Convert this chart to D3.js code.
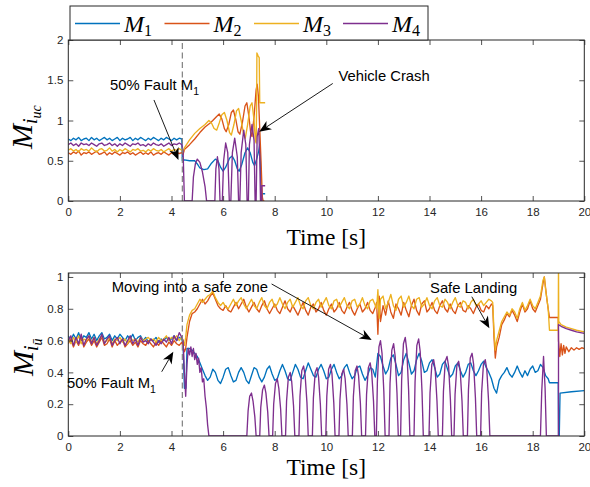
<!DOCTYPE html>
<html><head><meta charset="utf-8">
<script src="https://cdn.jsdelivr.net/npm/d3@7"></script>
<style>body{margin:0;background:#fff}svg{display:block}</style>
</head><body><div id="chart"></div>
<script>
// ---------------- DATA ----------------
const seriesNames = ["M1","M2","M3","M4"];
const xTicks = [0,2,4,6,8,10,12,14,16,18,20];
const yTicksTop = [0,0.5,1,1.5,2];
const yTicksBot = [0,0.2,0.4,0.6,0.8,1];
const faultTime = 4.42;

// Top panel, pre-fault samples every 0.1 s from 0 to 4.4 s
const top1Pre = [0.77,0.75,0.78,0.76,0.79,0.75,0.77,0.78,0.75,0.79,0.76,0.78,0.75,0.77,0.79,0.76,0.78,0.75,0.77,0.79,0.75,0.78,0.76,0.77,0.79,0.75,0.78,0.76,0.79,0.77,0.75,0.78,0.76,0.79,0.77,0.75,0.78,0.76,0.79,0.77,0.75,0.78,0.76,0.78,0.77];
const top2Pre = [0.60,0.58,0.61,0.59,0.62,0.57,0.60,0.59,0.61,0.58,0.60,0.62,0.58,0.59,0.61,0.57,0.60,0.58,0.61,0.59,0.57,0.60,0.59,0.61,0.58,0.60,0.57,0.59,0.61,0.58,0.60,0.58,0.61,0.57,0.59,0.60,0.58,0.61,0.59,0.57,0.60,0.58,0.60,0.59,0.60];
const top3Pre = [0.63,0.65,0.62,0.64,0.61,0.65,0.63,0.64,0.62,0.66,0.63,0.61,0.64,0.65,0.62,0.63,0.66,0.62,0.64,0.61,0.64,0.62,0.65,0.63,0.61,0.64,0.63,0.65,0.62,0.63,0.61,0.64,0.62,0.65,0.63,0.62,0.64,0.61,0.63,0.65,0.62,0.64,0.63,0.65,0.63];
const top4Pre = [0.70,0.72,0.69,0.71,0.68,0.72,0.70,0.71,0.69,0.72,0.70,0.68,0.71,0.72,0.69,0.70,0.72,0.69,0.71,0.68,0.71,0.69,0.72,0.70,0.68,0.71,0.70,0.72,0.69,0.70,0.68,0.71,0.69,0.72,0.70,0.69,0.71,0.68,0.70,0.72,0.69,0.71,0.70,0.72,0.70];

// Top panel, post-fault [time, value]
const top1Post = [[4.42,0.50],[4.5,0.51],[4.7,0.50],[4.9,0.50],[5.0,0.46],[5.1,0.41],[5.25,0.39],[5.4,0.40],[5.55,0.47],[5.7,0.52],[5.8,0.50],[5.9,0.42],[6.0,0.37],[6.1,0.42],[6.25,0.53],[6.35,0.56],[6.45,0.50],[6.55,0.40],[6.62,0.37],[6.72,0.45],[6.85,0.60],[6.95,0.66],[7.05,0.60],[7.15,0.48],[7.22,0.44],[7.3,0.52],[7.38,0.62],[7.42,0.70],[7.45,0.45],[7.48,0],[7.5,0],[7.5,0.09],[7.63,0.09]];
const top2Post = [[4.45,0.58],[4.5,0.64],[4.7,0.70],[4.9,0.77],[5.1,0.85],[5.3,0.92],[5.5,0.97],[5.6,1.0],[5.75,1.05],[5.85,1.08],[5.95,1.02],[6.05,0.90],[6.12,0.86],[6.22,0.95],[6.32,1.10],[6.4,1.13],[6.5,1.0],[6.58,0.86],[6.65,0.83],[6.75,0.98],[6.85,1.18],[6.92,1.22],[7.0,1.05],[7.07,0.85],[7.12,0.80],[7.2,1.05],[7.28,1.38],[7.32,1.45],[7.37,1.30],[7.42,0.90],[7.47,0.50],[7.52,0.05],[7.55,0],[7.6,0]];
const top3Post = [[4.45,0.60],[4.5,0.66],[4.7,0.76],[4.9,0.84],[5.1,0.90],[5.3,0.95],[5.45,1.0],[5.55,0.97],[5.65,0.90],[5.75,0.88],[5.85,0.97],[5.95,1.07],[6.05,1.10],[6.15,1.0],[6.25,0.85],[6.32,0.82],[6.42,0.95],[6.52,1.12],[6.6,1.15],[6.7,1.0],[6.8,0.82],[6.86,0.78],[6.95,0.95],[7.05,1.18],[7.12,1.22],[7.2,1.0],[7.25,0.75],[7.28,0.72],[7.3,1.20],[7.31,1.84],[7.36,1.80],[7.4,1.78],[7.42,1.22],[7.63,1.22]];
const top4Post = [[4.45,0.62],[4.5,0],[4.8,0],[4.85,0.30],[4.93,0.47],[5.0,0.52],[5.1,0.48],[5.2,0.36],[5.3,0.18],[5.36,0],[5.68,0],[5.72,0.40],[5.78,0.55],[5.84,0.40],[5.88,0],[5.97,0],[6.02,0.50],[6.1,0.72],[6.18,0.60],[6.24,0],[6.3,0],[6.36,0.60],[6.45,0.78],[6.55,0.55],[6.6,0],[6.65,0],[6.7,0.60],[6.8,0.88],[6.88,0.70],[6.93,0],[6.98,0],[7.02,0.70],[7.12,0.95],[7.2,0.75],[7.24,0],[7.28,0],[7.32,0.80],[7.38,0.90],[7.42,0.55],[7.45,0],[7.5,0],[7.5,0.19],[7.63,0.19]];

// Bottom panel, pre-fault samples every 0.1 s from 0 to 4.4 s
const bot1Pre = [0.63,0.60,0.64,0.61,0.65,0.60,0.63,0.62,0.65,0.61,0.64,0.60,0.63,0.65,0.61,0.62,0.64,0.60,0.63,0.61,0.64,0.62,0.60,0.63,0.61,0.64,0.60,0.62,0.63,0.60,0.62,0.59,0.61,0.60,0.62,0.59,0.61,0.60,0.62,0.60,0.61,0.63,0.60,0.62,0.61];
const bot2Pre = [0.58,0.61,0.56,0.60,0.57,0.62,0.56,0.59,0.61,0.57,0.60,0.56,0.59,0.62,0.57,0.58,0.61,0.56,0.60,0.57,0.59,0.61,0.56,0.58,0.60,0.57,0.59,0.56,0.60,0.58,0.57,0.60,0.58,0.56,0.59,0.57,0.60,0.58,0.56,0.59,0.57,0.60,0.58,0.57,0.59];
const bot3Pre = [0.61,0.58,0.62,0.59,0.63,0.58,0.61,0.60,0.63,0.59,0.62,0.58,0.61,0.63,0.59,0.60,0.62,0.58,0.61,0.60,0.62,0.59,0.61,0.58,0.62,0.60,0.61,0.59,0.62,0.60,0.61,0.62,0.60,0.61,0.59,0.62,0.60,0.61,0.63,0.60,0.62,0.61,0.63,0.60,0.62];
const bot4Pre = [0.60,0.63,0.57,0.62,0.58,0.64,0.57,0.61,0.63,0.58,0.62,0.57,0.60,0.64,0.58,0.61,0.63,0.57,0.60,0.62,0.58,0.61,0.57,0.60,0.63,0.58,0.61,0.57,0.62,0.59,0.60,0.58,0.61,0.59,0.57,0.60,0.58,0.61,0.59,0.62,0.58,0.63,0.60,0.65,0.62];

// Bottom panel M1, post-fault
const bot1Start = [[4.45,0.58],[4.5,0.30],[4.56,0.30],[4.6,0.55]];
const bot1Mid = [ // every 0.1 s from 4.7 to 18.6
  0.55,0.54,0.52,0.50,0.46,0.42,0.38,0.35,0.37,0.42,
  0.40,0.35,0.33,0.37,0.42,0.43,0.38,0.34,0.35,0.40,
  0.43,0.40,0.35,0.33,0.38,0.43,0.42,0.37,0.34,0.37,
  0.42,0.44,0.39,0.35,0.36,0.41,0.45,0.41,0.36,0.35,
  0.40,0.45,0.42,0.37,0.36,0.41,0.46,0.42,0.38,0.37,
  0.42,0.45,0.41,0.36,0.37,0.42,0.45,0.40,0.36,0.38,
  0.43,0.45,0.40,0.36,0.38,0.43,0.44,0.39,0.35,0.38,
  0.43,0.42,0.37,0.52,0.50,0.44,0.39,0.42,0.49,0.51,
  0.45,0.38,0.40,0.48,0.52,0.46,0.39,0.41,0.48,0.52,
  0.47,0.40,0.41,0.46,0.48,0.43,0.37,0.39,0.45,0.47,
  0.42,0.37,0.39,0.44,0.46,0.41,0.37,0.40,0.45,0.46,
  0.41,0.38,0.41,0.45,0.47,0.43,0.40,0.36,0.30,0.27,
  0.35,0.38,0.40,0.43,0.39,0.37,0.40,0.44,0.40,0.37,
  0.41,0.38,0.42,0.44,0.40,0.41,0.45,0.43,0.38,0.36];
const bot1End = [[18.65,0.335],[18.99,0.335],[19.0,0],[19.03,0],[19.06,0.27],[19.5,0.278],[20,0.285]];

// Bottom panel M2, post-fault
const bot2Start = [[4.45,0.56],[4.5,0.53],[4.55,0.55]];
const bot2A = [ // 4.6 .. 11.9
  0.62,0.72,0.77,0.78,0.80,0.83,0.86,0.83,0.85,0.88,
  0.90,0.86,0.82,0.80,0.79,0.82,0.79,0.78,0.81,0.84,
  0.80,0.83,0.86,0.81,0.78,0.81,0.84,0.80,0.78,0.82,
  0.85,0.80,0.77,0.80,0.83,0.79,0.77,0.81,0.85,0.80,
  0.78,0.82,0.79,0.76,0.80,0.84,0.79,0.76,0.81,0.83,
  0.78,0.80,0.84,0.79,0.76,0.80,0.83,0.78,0.80,0.84,
  0.79,0.77,0.81,0.84,0.79,0.76,0.80,0.83,0.78,0.80,
  0.84,0.79,0.77,0.81];
const bot2Spike = [[11.95,0.84],[12.0,0.64],[12.05,0.88],[12.1,0.72]];
const bot2B = [ // 12.2 .. 16.4
  0.82,0.76,0.85,0.78,0.74,0.83,0.80,0.76,0.84,0.79,
  0.75,0.82,0.86,0.79,0.76,0.83,0.85,0.78,0.80,0.84,
  0.79,0.77,0.82,0.85,0.80,0.78,0.83,0.79,0.77,0.82,
  0.84,0.79,0.78,0.82,0.80,0.77,0.81,0.83,0.79,0.78,
  0.82,0.80,0.83];
const bot2Drop = [[16.45,0.82],[16.5,0.62],[16.55,0.49],[16.6,0.56]];
const bot2C = [ // 16.7 .. 18.3
  0.62,0.70,0.73,0.77,0.75,0.79,0.76,0.72,0.78,0.83,
  0.78,0.80,0.85,0.80,0.78,0.82,0.86];
const bot2End = [[18.4,0.96],[18.45,1.0],[18.55,0.86],[18.6,0.80],[18.65,0.745],[18.99,0.745],[19.0,0.60],[19.05,0.50],[19.1,0.58],[19.15,0.51],[19.2,0.57],[19.25,0.52],[19.3,0.56],[19.4,0.53],[19.5,0.555],[19.6,0.54],[19.7,0.555],[19.8,0.545],[19.9,0.555],[20,0.55]];

// Bottom panel M3, post-fault
const bot3Start = [[4.45,0.60],[4.5,0.57],[4.55,0.62]];
const bot3A = [ // 4.6 .. 11.9
  0.70,0.76,0.79,0.80,0.83,0.86,0.84,0.86,0.88,0.89,
  0.91,0.87,0.84,0.82,0.84,0.81,0.80,0.83,0.86,0.82,
  0.85,0.87,0.83,0.80,0.83,0.86,0.82,0.80,0.84,0.87,
  0.82,0.80,0.84,0.86,0.81,0.83,0.87,0.83,0.80,0.84,
  0.86,0.81,0.84,0.87,0.82,0.80,0.85,0.87,0.82,0.80,
  0.84,0.86,0.81,0.84,0.87,0.82,0.80,0.85,0.86,0.81,
  0.84,0.87,0.82,0.80,0.85,0.86,0.81,0.83,0.87,0.82,
  0.80,0.85,0.86,0.82];
const bot3Spike = [[11.95,0.80],[12.0,0.92],[12.05,0.74],[12.1,0.86]];
const bot3B = [ // 12.2 .. 16.4
  0.88,0.80,0.84,0.89,0.82,0.79,0.86,0.88,0.81,0.84,
  0.88,0.82,0.80,0.86,0.87,0.81,0.83,0.87,0.82,0.80,
  0.85,0.87,0.82,0.81,0.86,0.84,0.80,0.84,0.87,0.82,
  0.81,0.85,0.84,0.80,0.84,0.86,0.82,0.83,0.85,0.82,
  0.84,0.86,0.85];
const bot3Drop = [[16.45,0.84],[16.5,0.66],[16.55,0.54],[16.6,0.60]];
const bot3C = [ // 16.7 .. 18.3
  0.66,0.72,0.75,0.78,0.76,0.80,0.78,0.74,0.80,0.84,
  0.79,0.82,0.86,0.82,0.80,0.84,0.88];
const bot3End = [[18.4,0.98],[18.45,1.0],[18.5,0.92],[18.6,0.80],[18.65,0.665],[18.99,0.665],[19.0,1.1],[19.01,0.72],[19.1,0.70],[19.3,0.685],[19.5,0.675],[19.7,0.665],[20,0.655]];

// Bottom panel M4, post-fault
const bot4Post = [[4.45,0.60],[4.5,0.40],[4.55,0.25],[4.6,0.45],[4.65,0.55],[4.7,0.51],[4.75,0.56],[4.8,0.50],[4.85,0.55],[4.9,0.48],[4.95,0.52],[5.0,0.45],[5.05,0.49],[5.1,0.40],[5.15,0.43],[5.2,0.34],[5.25,0.36],[5.3,0.25],[5.35,0.18],[5.4,0.07],[5.45,0],
 [6.92,0],[6.97,0.16],[7.03,0.25],[7.1,0.27],[7.16,0.22],[7.23,0.12],[7.28,0],
 [7.42,0],[7.46,0.18],[7.53,0.29],[7.6,0.32],[7.66,0.27],[7.73,0.15],[7.78,0],
 [7.92,0],[7.96,0.20],[8.03,0.33],[8.1,0.36],[8.16,0.30],[8.23,0.17],[8.28,0],
 [8.42,0],[8.46,0.22],[8.53,0.37],[8.6,0.40],[8.66,0.34],[8.73,0.19],[8.78,0],
 [8.94,0],[8.98,0.25],[9.05,0.41],[9.12,0.44],[9.18,0.38],[9.25,0.21],[9.3,0],
 [9.46,0],[9.5,0.24],[9.57,0.40],[9.64,0.43],[9.7,0.37],[9.77,0.20],[9.82,0],
 [9.98,0],[10.02,0.25],[10.09,0.42],[10.16,0.45],[10.22,0.39],[10.29,0.21],[10.34,0],
 [10.49,0],[10.53,0.23],[10.6,0.39],[10.67,0.42],[10.73,0.36],[10.8,0.20],[10.85,0],
 [11.01,0],[11.05,0.25],[11.12,0.41],[11.19,0.44],[11.25,0.38],[11.32,0.21],[11.37,0],
 [11.52,0],[11.56,0.26],[11.63,0.43],[11.7,0.46],[11.76,0.40],[11.83,0.22],[11.88,0],
 [11.94,0],[11.98,0.34],[12.04,0.56],[12.1,0.60],[12.16,0.52],[12.23,0.28],[12.28,0],
 [12.43,0],[12.47,0.33],[12.54,0.54],[12.61,0.58],[12.67,0.50],[12.74,0.27],[12.79,0],
 [12.88,0],[12.92,0.35],[12.99,0.58],[13.06,0.62],[13.12,0.54],[13.19,0.29],[13.24,0],
 [13.4,0],[13.44,0.34],[13.51,0.57],[13.58,0.61],[13.64,0.53],[13.71,0.28],[13.76,0],
 [13.98,0],[14.02,0.27],[14.09,0.45],[14.16,0.48],[14.22,0.42],[14.29,0.22],[14.34,0],
 [14.5,0],[14.54,0.28],[14.61,0.47],[14.68,0.50],[14.74,0.44],[14.81,0.23],[14.86,0],
 [14.95,0],[14.99,0.26],[15.06,0.44],[15.13,0.47],[15.19,0.41],[15.26,0.22],[15.31,0],
 [15.47,0],[15.51,0.29],[15.58,0.49],[15.65,0.52],[15.71,0.45],[15.78,0.24],[15.83,0],
 [15.98,0],[16.02,0.27],[16.09,0.45],[16.16,0.48],[16.22,0.42],[16.29,0.22],[16.34,0],
 [18.3,0],[18.35,0.28],[18.42,0.50],[18.48,0.30],[18.53,0],[19.0,0],[19.0,0.70],[19.1,0.69],[19.3,0.675],[19.5,0.665],[19.7,0.655],[20,0.645]];

// ---------------- BUILD ----------------
function grid(t0, vals){ return vals.map((v,i)=>[+(t0+i*0.1).toFixed(2), v]); }
const topSeries = [
  grid(0, top1Pre).concat(top1Post),
  grid(0, top2Pre).concat(top2Post),
  grid(0, top3Pre).concat(top3Post),
  grid(0, top4Pre).concat(top4Post)
];
const botSeries = [
  grid(0, bot1Pre).concat(bot1Start, grid(4.7, bot1Mid), bot1End),
  grid(0, bot2Pre).concat(bot2Start, grid(4.6, bot2A), bot2Spike, grid(12.2, bot2B), bot2Drop, grid(16.7, bot2C), bot2End),
  grid(0, bot3Pre).concat(bot3Start, grid(4.6, bot3A), bot3Spike, grid(12.2, bot3B), bot3Drop, grid(16.7, bot3C), bot3End),
  grid(0, bot4Pre).concat(bot4Post)
];

const colors = ["#0072BD","#D95319","#EDB120","#7E2F8E"];
const axisCol = "#262626";
const W = 590, H = 487;
const L = 68.3, R = 584.3;
const svg = d3.select("#chart").append("svg").attr("width",W).attr("height",H);

const x = d3.scaleLinear().domain([0,20]).range([L,R]);
const yTop = d3.scaleLinear().domain([0,2]).range([201,40]);
const yBot = d3.scaleLinear().domain([0,1.025]).range([436,273]);

function panel(id, y, yTicks, data, yFmt){
  const g = svg.append("g");
  const [y0,y1] = y.range();
  g.append("clipPath").attr("id",id).append("rect")
    .attr("x",L).attr("y",y1).attr("width",R-L).attr("height",y0-y1);
  const line = d3.line().x(d=>x(d[0])).y(d=>y(d[1]));
  const pg = g.append("g").attr("clip-path",`url(#${id})`);
  data.forEach((s,i)=>{
    pg.append("path").attr("d",line(s)).attr("fill","none")
      .attr("stroke",colors[i]).attr("stroke-width",1.35).attr("stroke-linejoin","round");
  });
  // fault line
  pg.append("line").attr("x1",x(faultTime)).attr("x2",x(faultTime)).attr("y1",y0).attr("y2",y1)
    .attr("stroke","#7f7f7f").attr("stroke-width",1.2).attr("stroke-dasharray","6,3.5");
  // axes
  const ax = d3.axisBottom(x).tickValues(xTicks).tickSize(-5).tickPadding(7).tickFormat(d3.format("d"));
  const axT = d3.axisTop(x).tickValues(xTicks).tickSize(-5).tickFormat("");
  const ay = d3.axisLeft(y).tickValues(yTicks).tickSize(-5).tickPadding(5).tickFormat(yFmt);
  const ayR = d3.axisRight(y).tickValues(yTicks).tickSize(-5).tickFormat("");
  const st = sel => {
    sel.selectAll("path").attr("stroke",axisCol).attr("stroke-width",1);
    sel.selectAll("line").attr("stroke",axisCol).attr("stroke-width",0.8);
    sel.selectAll("text").attr("fill",axisCol).attr("font-family","Liberation Sans, Arial, sans-serif").attr("font-size",11.5);
  };
  g.append("g").attr("transform",`translate(0,${y0})`).call(ax).call(st);
  g.append("g").attr("transform",`translate(0,${y1})`).call(axT).call(st);
  g.append("g").attr("transform",`translate(${L},0)`).call(ay).call(st);
  g.append("g").attr("transform",`translate(${R},0)`).call(ayR).call(st);
  g.selectAll(".domain").attr("d", null);
  g.append("rect").attr("x",L).attr("y",y1).attr("width",R-L).attr("height",y0-y1)
    .attr("fill","none").attr("stroke",axisCol).attr("stroke-width",1);
  return g;
}
panel("cTop", yTop, yTicksTop, topSeries, d3.format(""));
panel("cBot", yBot, yTicksBot, botSeries, d3.format(""));

// x labels
const serif = "Liberation Serif, Times New Roman, serif";
[[245],[475]].forEach(([yy])=>{
  svg.append("text").attr("x",(L+R)/2).attr("y",yy).attr("text-anchor","middle")
    .attr("font-family",serif).attr("font-size",23.5).attr("fill","#000").text("Time [s]");
});
// y labels
function ylab(tx,ty,sub2){
  const t = svg.append("text").attr("transform",`translate(${tx},${ty}) rotate(-90)`)
    .attr("font-family",serif).attr("font-style","italic").attr("fill","#000");
  t.append("tspan").attr("font-size",30).text("M");
  t.append("tspan").attr("font-size",20).attr("dy",5).text("i");
  t.append("tspan").attr("font-size",14).attr("dy",4).text(sub2);
}
ylab(31.5,149,"uc");
ylab(32.5,376,"ū");

// annotations
const sans = "Liberation Sans, Arial, sans-serif";
function label(xx,yy,txt,sub){
  const t = svg.append("text").attr("x",xx).attr("y",yy).attr("font-family",sans)
    .attr("font-size",14.8).attr("fill","#000");
  t.append("tspan").text(txt);
  if(sub){ t.append("tspan").attr("font-size",10.5).attr("dy",5).text(sub); }
}
function arrow(x1,y1,x2,y2){
  const ang = Math.atan2(y2-y1,x2-x1), len=12, hw=5, notch=8.5;
  const c=Math.cos(ang), s=Math.sin(ang);
  const bx = x2 - notch*c, by = y2 - notch*s;
  svg.append("line").attr("x1",x1).attr("y1",y1).attr("x2",bx).attr("y2",by)
    .attr("stroke","#000").attr("stroke-width",0.9);
  const p = [[x2,y2],[x2-len*c+hw*s, y2-len*s-hw*c],[bx,by],[x2-len*c-hw*s, y2-len*s+hw*c]];
  svg.append("path").attr("d","M"+p.map(q=>q.join(",")).join("L")+"Z").attr("fill","#000");
}
// top panel
label(x(1.62), yTop(1.38), "50% Fault M", "1");
arrow(x(3.32), yTop(1.255), x(4.27), yTop(0.51));
label(x(10.47), yTop(1.495), "Vehicle Crash");
arrow(x(10.25), yTop(1.46), x(7.40), yTop(0.86));
// bottom panel
label(x(1.68), yBot(0.907), "Moving into a safe zone");
arrow(x(7.88), yBot(0.956), x(11.76), yBot(0.604));
label(x(14.02), yBot(0.897), "Safe Landing");
arrow(x(15.64), yBot(0.876), x(16.32), yBot(0.677));
label(x(-0.05), yBot(0.30), "50% Fault M", "1");
arrow(x(3.62), yBot(0.404), x(4.07), yBot(0.53));

// legend
const lg = svg.append("g");
lg.append("rect").attr("x",70).attr("y",6).attr("width",358).attr("height",34)
  .attr("fill","#fff").attr("stroke",axisCol).attr("stroke-width",1);
const legX = [75,164.5,254,343];
seriesNames.forEach((n,i)=>{
  lg.append("line").attr("x1",legX[i]).attr("x2",legX[i]+45).attr("y1",23.5).attr("y2",23.5)
    .attr("stroke",colors[i]).attr("stroke-width",1.5);
  const t = lg.append("text").attr("x",legX[i]+49).attr("y",31.5).attr("font-family",serif)
    .attr("font-style","italic").attr("font-size",24).attr("fill","#000");
  t.append("tspan").text("M");
  t.append("tspan").attr("font-size",16).attr("font-style","normal").attr("dy",4).text(n.slice(1));
});
</script></body></html>
